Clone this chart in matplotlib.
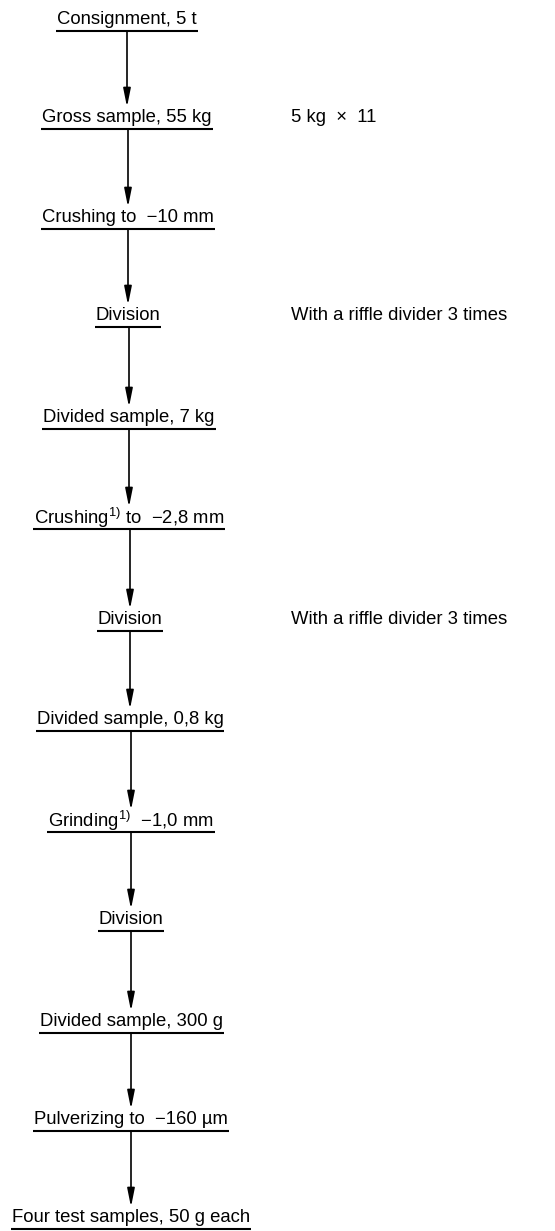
import matplotlib.pyplot as plt

plt.rcParams['font.family'] = ['Liberation Sans', 'DejaVu Sans']
plt.rcParams['mathtext.fontset'] = 'custom'
plt.rcParams['mathtext.rm'] = 'Liberation Sans'
plt.rcParams['mathtext.it'] = 'Liberation Sans'

# flow steps, top to bottom
steps = [
    "Consignment, 5 t",
    "Gross sample, 55 kg",
    "Crushing to  \u221210 mm",
    "Division",
    "Divided sample, 7 kg",
    "Crushing$^{1)}$ to  \u22122,8 mm",
    "Division",
    "Divided sample, 0,8 kg",
    "Grinding$^{1)}$  \u22121,0 mm",
    "Division",
    "Divided sample, 300 g",
    "Pulverizing to  \u2212160 \u00b5m",
    "Four test samples, 50 g each",
]
step_y = [20, 118, 218, 316, 418, 518, 620, 720, 821, 920, 1022, 1120, 1218]
step_x = [127, 127, 128, 128, 129, 129, 130, 130, 131, 131, 131, 131, 131]

# notes to the right of some steps
note_idx = [1, 3, 6]
notes = ["5 kg  \u00d7  11", "With a riffle divider 3 times", "With a riffle divider 3 times"]

W, H = 555, 1231
fig = plt.figure(figsize=(W / 100, H / 100), dpi=100)
ax = fig.add_axes([0, 0, 1, 1])
ax.set_xlim(0, W)
ax.set_ylim(H, 0)
ax.axis('off')

fs = 13.3
texts = []
for x, y, s in zip(step_x, step_y, steps):
    t = ax.text(x, y, s, ha='center', va='center', fontsize=fs, color='black')
    texts.append(t)

for i, s in zip(note_idx, notes):
    ax.text(291, step_y[i], s, ha='left', va='center', fontsize=fs, color='black')

fig.canvas.draw()
r = fig.canvas.get_renderer()
inv = ax.transData.inverted()
for t, y in zip(texts, step_y):
    bb = t.get_window_extent(r)
    x0, _ = inv.transform((bb.x0, bb.y0))
    x1, _ = inv.transform((bb.x1, bb.y0))
    ax.plot([x0 - 1, x1 + 1], [y + 11, y + 11], color='black', lw=1.5,
            solid_capstyle='butt', clip_on=False)

for k in range(len(steps) - 1):
    x = step_x[k + 1]
    ax.annotate('', xy=(x, step_y[k + 1] - 11), xytext=(x, step_y[k] + 11),
                arrowprops=dict(arrowstyle='-|>,head_length=1.1,head_width=0.22',
                                lw=1.2, color='black', shrinkA=0, shrinkB=0))

fig.savefig('out.png', dpi=100)
